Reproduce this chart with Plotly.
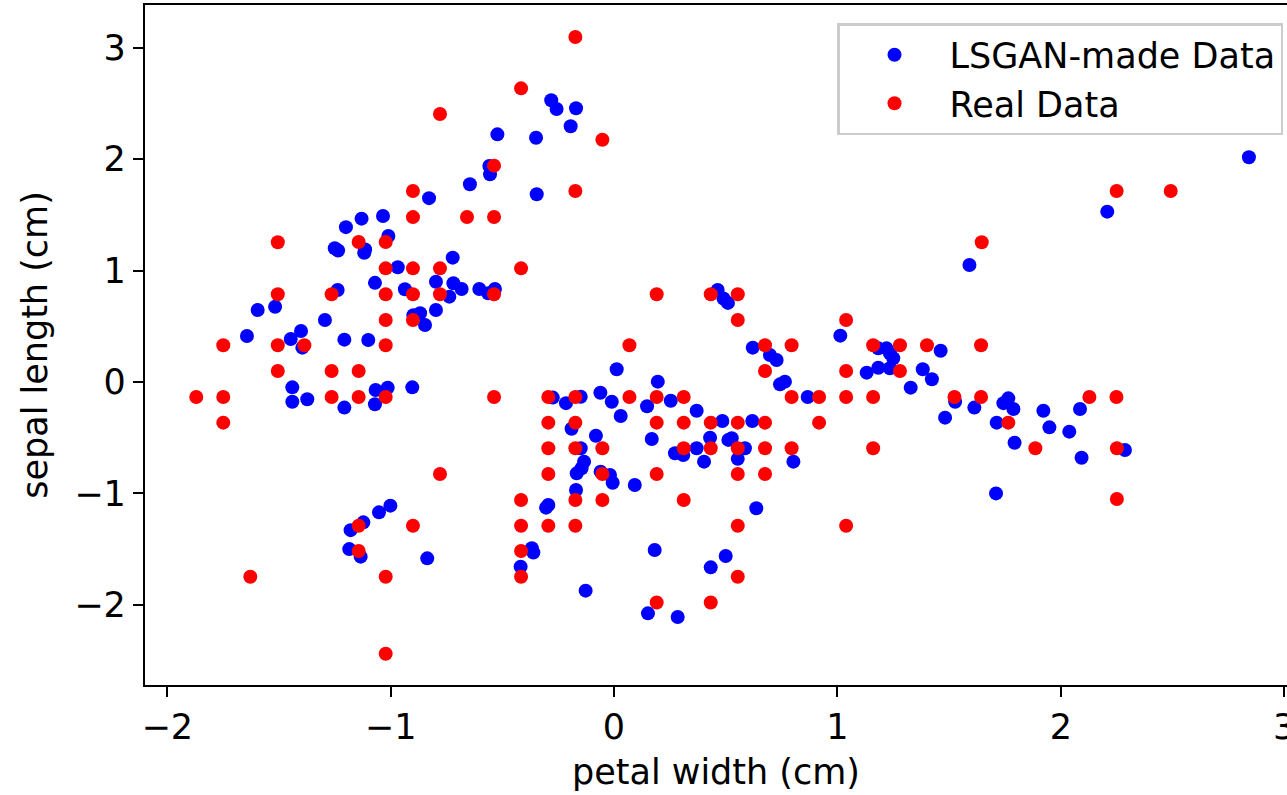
import plotly.graph_objects as go

# Generated samples (petal width, sepal length), standardized units
gan_x = [-0.828, -1.20, -1.13, -1.034, -1.01, -1.25, -1.235, -1.114, -1.118, -0.968,
         -1.07, -1.237, -0.936, -0.797, -0.797, -1.595, -1.517, -0.898, -0.868, -0.846,
         -1.294, -1.643, -1.447, -1.401, -1.395, -1.207, -1.10, -1.44, -1.44, -1.373,
         -1.207, -1.067, -1.013, -1.07, -0.903, -1.179, -1.122, -1.052, -1.001, -1.185,
         -1.134, -0.836, -0.281, -0.257, -0.17, -0.194, -0.522, -0.349, -0.558, -0.555,
         -0.645, -0.346, -0.722, -0.719, -0.682, -0.737, -0.603, -0.563, -0.533, 0.464,
         0.49, 0.51, 0.012, 0.196, -0.274, -0.215, -0.149, -0.061, -0.01, 0.03,
         0.148, 0.254, 0.37, -0.19, 0.485, -0.081, 0.169, 0.43, -0.149, -0.134,
         0.273, 0.31, 0.37, 0.403, -0.167, -0.145, -0.06, -0.018, -0.006, 0.093,
         -0.17, -0.304, -0.294, -0.368, -0.361, -0.418, -0.127, 0.182, 0.433, 0.50,
         0.152, 0.285, 0.554, 0.803, 0.637, 1.71, 1.591, 1.013, 0.621, 0.698,
         0.728, 0.743, 0.765, 0.867, 1.183, 1.22, 1.235, 1.25, 1.235, 1.131,
         1.183, 1.462, 1.382, 1.423, 1.328, 1.527, 1.613, 1.482, 1.765, 1.743,
         1.788, 1.713, 0.619, 0.512, 0.527, 0.586, 1.922, 1.949, 2.038, 2.086,
         1.793, 2.093, 2.287, 2.842, 2.208]
gan_y = [1.65, 1.39, 1.466, 1.49, 1.31, 1.20, 1.18, 1.19, 1.16, 1.03,
         0.89, 0.826, 0.832, 0.90, 0.646, 0.646, 0.676, 0.60, 0.617, 0.512,
         0.557, 0.413, 0.386, 0.458, 0.308, 0.38, 0.377, -0.048, -0.177, -0.155,
         -0.23, -0.072, -0.051, -0.20, -0.048, -1.33, -1.26, -1.17, -1.11, -1.50,
         -1.568, -1.583, 2.529, 2.45, 2.457, 2.295, 2.223, 2.193, 1.939, 1.864,
         1.775, 1.685, 1.116, 0.886, 0.835, 0.766, 0.835, 0.796, 0.835, 0.826,
         0.75, 0.71, 0.114, 0.003, -0.14, -0.19, -0.132, -0.096, -0.177, -0.305,
         -0.218, -0.168, -0.258, -0.42, -0.35, -0.482, -0.512, -0.50, -0.595, -0.715,
         -0.64, -0.655, -0.595, -0.715, -0.82, -0.775, -0.805, -0.835, -0.904, -0.925,
         -0.97, -1.128, -1.104, -1.493, -1.53, -1.658, -1.873, -1.508, -1.664, -1.562,
         -2.077, -2.11, -0.69, -0.715, -1.134, -1.0, 1.05, 0.416, 0.308, 0.242,
         0.197, -0.021, 0.003, -0.135, 0.302, 0.302, 0.258, 0.213, 0.123, 0.084,
         0.128, 0.281, 0.114, 0.024, -0.051, -0.177, -0.23, -0.32, -0.147, -0.19,
         -0.242, -0.365, -0.35, -0.52, -0.505, -0.595, -0.258, -0.407, -0.446, -0.242,
         -0.545, -0.68, -0.61, 2.017, 1.529]

# Real iris measurements (petal width, sepal length), standardized units
real_x = [-0.779, -0.90, -0.90, -1.505, -1.143, -1.022, -1.022, -0.90, -0.779, -1.505,
          -1.264, -1.022, -0.90, -0.779, -1.022, -0.90, -1.749, -1.386, -1.505, -1.022,
          -1.505, -1.264, -1.143, -1.87, -1.749, -1.749, -1.264, -1.143, -1.022, -0.779,
          -1.143, -1.143, -0.90, -1.628, -1.022, -1.022, -0.173, -0.416, -0.052, -0.537,
          -0.173, -0.658, -0.537, -0.416, -0.537, 0.191, 0.433, 0.554, 0.069, -0.537,
          -0.294, -0.173, 0.069, 0.191, 0.312, -0.294, -0.173, 0.191, 0.312, 0.433,
          -0.294, -0.173, -0.052, 0.312, 0.433, -0.294, -0.052, 0.191, -0.416, -0.173,
          -0.052, 0.312, -0.416, -0.294, -0.173, -0.416, -0.416, 0.191, 0.433, 0.554,
          0.676, 0.554, 1.039, 0.554, 1.646, 0.554, 1.039, 0.676, 0.795, 0.676,
          0.795, 0.918, 1.039, 1.039, 1.16, 1.16, 1.28, 1.28, 1.401, 1.643,
          1.16, 0.918, 1.524, 1.643, 1.765, 0.554, 0.676, 0.554, 0.676, 0.795,
          2.128, 2.249, 1.886, 2.251, 2.251, 2.25, 2.492]
real_y = [2.406, 1.715, 1.48, 1.254, 1.257, 1.257, 1.02, 1.02, 1.02, 0.787,
          0.787, 0.787, 0.787, 0.787, 0.557, 0.557, 0.33, 0.33, 0.33, 0.33,
          0.099, 0.099, 0.099, -0.135, -0.135, -0.365, -0.135, -0.135, -0.135, -0.826,
          -1.29, -1.517, -1.29, -1.748, -1.748, -2.44, 3.097, 2.636, 2.175, 1.942,
          1.715, 1.481, 1.481, 1.02, 0.787, 0.787, 0.787, 0.787, 0.33, -0.135,
          -0.135, -0.135, -0.135, -0.135, -0.135, -0.365, -0.365, -0.365, -0.365, -0.365,
          -0.595, -0.595, -0.595, -0.595, -0.595, -0.826, -0.826, -0.826, -1.059, -1.059,
          -1.059, -1.059, -1.29, -1.29, -1.29, -1.517, -1.748, -1.98, -1.98, -0.826,
          -0.826, -1.29, -1.29, -1.748, 1.254, 0.557, 0.557, 0.33, 0.33, 0.099,
          -0.135, -0.135, 0.099, -0.135, -0.135, 0.33, 0.33, 0.099, 0.33, 0.33,
          -0.595, -0.365, -0.135, -0.135, -0.365, -0.365, -0.365, -0.595, -0.595, -0.595,
          -0.135, -0.135, -0.595, -0.595, -1.05, 1.715, 1.715]

tick_vals = [-2, -1, 0, 1, 2, 3]
tick_text = ["\u22122", "\u22121", "0", "1", "2", "3"]

FONT = "DejaVu Sans"
FS = 35

fig = go.Figure()
fig.add_trace(go.Scatter(
    x=gan_x, y=gan_y, mode="markers", name="LSGAN-made Data",
    marker=dict(color="#0000ff", size=14, line=dict(width=0)),
))
fig.add_trace(go.Scatter(
    x=real_x, y=real_y, mode="markers", name="Real Data",
    marker=dict(color="#ff0000", size=14, line=dict(width=0)),
))

axis_common = dict(
    showgrid=False, zeroline=False, showline=True, linecolor="black", linewidth=2.2,
    ticks="outside", ticklen=10, tickwidth=2.2, tickcolor="black",
    tickfont=dict(family=FONT, size=FS, color="black"),
    ticklabeloverflow="allow", automargin=False,
    tickvals=tick_vals, ticktext=tick_text,
)

fig.update_layout(
    width=1287, height=795,
    margin=dict(l=145, r=0, t=5, b=110),
    paper_bgcolor="white", plot_bgcolor="white",
    font=dict(family=FONT, size=FS, color="black"),
    xaxis=dict(range=[-2.0994, 3.0125], mirror=True,
               title=dict(text="petal width (cm)", font=dict(family=FONT, size=FS), standoff=13),
               **axis_common),
    yaxis=dict(range=[-2.720, 3.384],
               title=dict(text="sepal length (cm)", font=dict(family=FONT, size=FS), standoff=16),
               **axis_common),
    legend=dict(
        x=0.9965, y=0.9735, xanchor="right", yanchor="top",
        bgcolor="white", bordercolor="#cccccc", borderwidth=2.5,
        font=dict(family=FONT, size=FS, color="black"),
        itemwidth=100,
    ),
    showlegend=True,
)

fig.write_html("out.html")
